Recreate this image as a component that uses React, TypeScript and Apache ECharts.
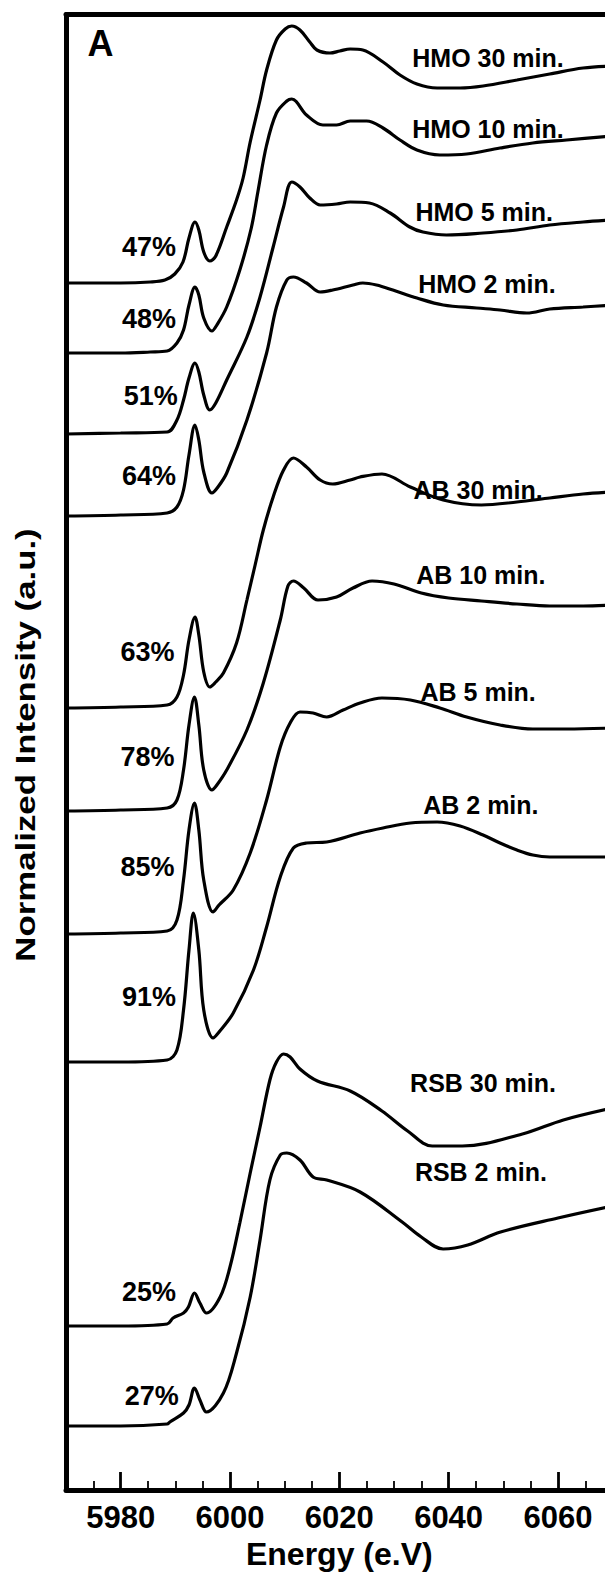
import React, { useEffect, useRef } from "react";
import * as echarts from "echarts";

// Cr K-edge XANES spectra, stacked (energy eV, normalized intensity + offset)
const hmo30: [number, number][] = [
  [5970, 12.07], [5980, 12.07], [5985.4, 12.08], [5988.1, 12.1], [5989.9, 12.16], [5991.4, 12.28],
  [5992.5, 12.52], [5993.6, 12.68], [5994.3, 12.6], [5995.2, 12.38], [5996.3, 12.29], [5997.4, 12.34],
  [5999.4, 12.63], [6001.2, 12.9], [6002.4, 13.12], [6003.7, 13.48], [6005.5, 13.9], [6006.7, 14.2],
  [6008.5, 14.5], [6010.1, 14.61], [6011.3, 14.64], [6012.8, 14.6], [6014.6, 14.48], [6015.9, 14.4],
  [6018.3, 14.37], [6020.1, 14.39], [6022, 14.41], [6024.3, 14.4], [6028, 14.28], [6031.1, 14.15],
  [6034.2, 14.06], [6037.9, 14.02], [6042.1, 14.02], [6046.3, 14.04], [6052.5, 14.1], [6058.5, 14.16],
  [6064.6, 14.22], [6070, 14.24],
];
const hmo10: [number, number][] = [
  [5970, 11.37], [5980, 11.37], [5985.4, 11.38], [5988.5, 11.39], [5990.3, 11.47], [5991.5, 11.6],
  [5992.5, 11.85], [5993.6, 12.03], [5994.3, 11.95], [5995.2, 11.72], [5996.7, 11.59], [5997.6, 11.65],
  [5999.4, 11.83], [6001.8, 12.2], [6003.9, 12.62], [6005.1, 12.98], [6006.7, 13.45], [6008.5, 13.77],
  [6010.4, 13.89], [6011.3, 13.91], [6014, 13.75], [6017, 13.65], [6019.5, 13.65], [6022, 13.69],
  [6025, 13.69], [6028, 13.62], [6031.1, 13.5], [6034.2, 13.4], [6038.4, 13.35], [6043.3, 13.36],
  [6049.4, 13.42], [6055.4, 13.47], [6061.6, 13.5], [6070, 13.54],
];
const hmo5: [number, number][] = [
  [5970, 10.56], [5980, 10.57], [5988.5, 10.58], [5990.3, 10.7], [5991.5, 10.9], [5992.5, 11.12],
  [5993.6, 11.27], [5994.3, 11.18], [5995.2, 10.95], [5996.3, 10.8], [5997.4, 10.87], [5999.4, 11.1],
  [6003.1, 11.53], [6005.5, 11.93], [6007.9, 12.43], [6009.8, 12.83], [6011.3, 13.08], [6012.8, 13.03],
  [6014.6, 12.92], [6016.5, 12.85], [6019.5, 12.86], [6022, 12.88], [6025.5, 12.87], [6029.3, 12.77],
  [6032.9, 12.63], [6035.3, 12.58], [6039.6, 12.55], [6046.3, 12.57], [6052.5, 12.6], [6058.5, 12.65],
  [6064.6, 12.68], [6070, 12.7],
];
const hmo2: [number, number][] = [
  [5970, 9.74], [5980, 9.75], [5988.5, 9.77], [5990.3, 9.83], [5991.5, 10.0], [5992.5, 10.35],
  [5993.6, 10.65], [5994.3, 10.5], [5995.2, 10.18], [5996.7, 9.97], [5997.8, 10.03], [5999.4, 10.17],
  [6003.1, 10.7], [6006.7, 11.37], [6008.5, 11.83], [6010.4, 12.1], [6011.6, 12.13], [6014, 12.07],
  [6016.5, 11.98], [6018.8, 12.0], [6022.5, 12.05], [6024.3, 12.07], [6026.8, 12.05], [6029.8, 12.0],
  [6034.2, 11.92], [6039, 11.85], [6045.1, 11.82], [6049.4, 11.8], [6054.3, 11.77], [6058.5, 11.81],
  [6064.6, 11.83], [6070, 11.85],
];
const ab30: [number, number][] = [
  [5970, 7.82], [5980, 7.83], [5988.5, 7.85], [5990.3, 7.93], [5991.5, 8.15], [5992.5, 8.5],
  [5993.6, 8.73], [5994.3, 8.55], [5995.2, 8.18], [5996.3, 8.03], [5997.4, 8.08], [5998.8, 8.17],
  [6001.2, 8.47], [6003.1, 8.9], [6004.6, 9.25], [6006.1, 9.6], [6007.9, 9.93], [6009.8, 10.2],
  [6011.6, 10.32], [6014, 10.23], [6016.5, 10.1], [6018.8, 10.06], [6022, 10.1], [6023.8, 10.13],
  [6027.8, 10.16], [6033, 10.03], [6039, 9.9], [6046, 9.85], [6052.5, 9.88], [6058.5, 9.92],
  [6064.6, 9.96], [6070, 9.98],
];
const ab10: [number, number][] = [
  [5970, 6.79], [5980, 6.8], [5988.5, 6.82], [5990.3, 6.9], [5991.5, 7.2], [5992.5, 7.65],
  [5993.5, 7.93], [5994.3, 7.65], [5995.2, 7.2], [5996.7, 7.0], [5997.6, 7.05], [5999.4, 7.2],
  [6003.1, 7.6], [6006.1, 8.07], [6009.2, 8.7], [6010.6, 9.04], [6011.6, 9.09], [6013.5, 9.02],
  [6016.1, 8.9], [6019.5, 8.93], [6022.5, 9.02], [6026, 9.09], [6030, 9.06], [6035, 8.97],
  [6040, 8.92], [6046, 8.89], [6052.5, 8.86], [6058.5, 8.84], [6064.6, 8.84], [6070, 8.85],
];
const ab5: [number, number][] = [
  [5970, 5.56], [5980, 5.57], [5988.5, 5.59], [5990.3, 5.7], [5991.5, 6.1], [5992.5, 6.6],
  [5993.5, 6.87], [5994.3, 6.6], [5995.2, 6.1], [5996.9, 5.78], [5998, 5.85], [6000.6, 6.0],
  [6003.7, 6.37], [6006.7, 6.9], [6009.2, 7.43], [6011, 7.67], [6012.8, 7.78], [6015.2, 7.77],
  [6017.7, 7.73], [6020.7, 7.8], [6023.8, 7.87], [6027.8, 7.92], [6033, 7.9], [6038.4, 7.82],
  [6043.3, 7.73], [6049.4, 7.65], [6055.4, 7.61], [6061.6, 7.61], [6070, 7.62],
];
const ab2: [number, number][] = [
  [5970, 4.28], [5980, 4.28], [5988.5, 4.3], [5990.3, 4.4], [5991.5, 4.8], [5992.5, 5.4],
  [5993.3, 5.77], [5994.3, 5.4], [5995.2, 4.8], [5996.9, 4.52], [5998, 4.58], [6000.6, 4.77],
  [6004.3, 5.2], [6006.7, 5.63], [6009.2, 6.13], [6011.6, 6.42], [6014, 6.47], [6017.7, 6.48],
  [6023.8, 6.57], [6028, 6.62], [6033, 6.67], [6037.9, 6.68], [6042.1, 6.64], [6046.3, 6.55],
  [6049.4, 6.47], [6052.5, 6.4], [6055.4, 6.35], [6058.5, 6.33], [6064.6, 6.33], [6070, 6.33],
];
const rsb30: [number, number][] = [
  [5970, 1.64], [5980, 1.64], [5988.5, 1.66], [5989.6, 1.72], [5991.5, 1.77], [5992.4, 1.83],
  [5993.5, 1.97], [5994.5, 1.87], [5995.7, 1.77], [5998.2, 1.93], [6000, 2.23], [6001.8, 2.67],
  [6003.7, 3.17], [6005.5, 3.63], [6007.3, 4.1], [6008.5, 4.28], [6009.8, 4.36], [6011, 4.33],
  [6012.8, 4.21], [6016, 4.09], [6022, 3.99], [6027.8, 3.79], [6032.5, 3.59], [6037, 3.44],
  [6042.5, 3.44], [6053.5, 3.56], [6061, 3.7], [6070, 3.82],
];
const rsb2: [number, number][] = [
  [5970, 0.64], [5980, 0.64], [5988.5, 0.66], [5989, 0.68], [5991.5, 0.77], [5992.5, 0.85],
  [5993.5, 1.02], [5994.5, 0.9], [5995.7, 0.78], [5998.8, 0.97], [6001.2, 1.37], [6003.7, 1.93],
  [6005.5, 2.5], [6007.3, 3.1], [6009.2, 3.35], [6010.4, 3.37], [6012.8, 3.3], [6015.2, 3.13],
  [6017.7, 3.1], [6023.8, 2.98], [6031.5, 2.68], [6035, 2.53], [6039, 2.41], [6043.5, 2.45],
  [6049.5, 2.58], [6060, 2.72], [6070, 2.84],
];

const seriesNames = [
  "HMO 30 min.", "HMO 10 min.", "HMO 5 min.", "HMO 2 min.",
  "AB 30 min.", "AB 10 min.", "AB 5 min.", "AB 2 min.",
  "RSB 30 min.", "RSB 2 min.",
];
const spectra = [hmo30, hmo10, hmo5, hmo2, ab30, ab10, ab5, ab2, rsb30, rsb2];

// curve labels: [text, energy, intensity]
const curveLabels: [string, number, number][] = [
  ["HMO 30 min.", 6047.2, 14.32], ["HMO 10 min.", 6047.2, 13.61],
  ["HMO 5 min.", 6046.5, 12.78], ["HMO 2 min.", 6047.0, 12.06],
  ["AB 30 min.", 6045.4, 10.0], ["AB 10 min.", 6045.9, 9.15],
  ["AB 5 min.", 6045.4, 7.98], ["AB 2 min.", 6045.9, 6.85],
  ["RSB 30 min.", 6046.3, 4.07], ["RSB 2 min.", 6045.9, 3.18],
];
// pre-edge Cr(VI) fractions: [text, energy, intensity]
const percentLabels: [string, number, number][] = [
  ["47%", 5985.2, 12.43], ["48%", 5985.2, 11.71], ["51%", 5985.5, 10.94], ["64%", 5985.2, 10.14],
  ["63%", 5984.9, 8.38], ["78%", 5984.9, 7.33], ["85%", 5984.9, 6.23], ["91%", 5985.2, 4.93],
  ["25%", 5985.2, 1.98], ["27%", 5985.7, 0.94],
];
const panelLabel: [string, number, number] = ["A", 5976.3, 14.47];

const majorTicks = [5980, 6000, 6020, 6040, 6060];
const minorTicks = [
  5975, 5985, 5990, 5995, 6005, 6010, 6015, 6025, 6030, 6035, 6045, 6050, 6055, 6065,
];

const FONT = "'Liberation Sans', Arial, Helvetica, sans-serif";

export default function App() {
  const ref = useRef<HTMLDivElement>(null);
  useEffect(() => {
    document.body.style.margin = "0";
    if (!ref.current) return;
    const chart = echarts.init(ref.current, undefined, { renderer: "svg" });
    const lineSeries = spectra.map((d, i) => ({
      name: seriesNames[i],
      type: "line",
      data: d,
      smooth: 0.35,
      symbol: "none",
      lineStyle: { color: "#000", width: 3.2 },
      z: 2,
    }));
    const textSeries = (items: [string, number, number][], size: number) => ({
      type: "scatter",
      symbolSize: 0,
      silent: true,
      z: 3,
      itemStyle: { opacity: 1, color: "#000" },
      data: items.map(([t, x, y]) => ({ name: t, value: [x, y] })),
      label: {
        show: true,
        position: "inside",
        formatter: (p: any) => p.name,
        color: "#000",
        opacity: 1,
        fontFamily: FONT,
        fontWeight: "bold",
        fontSize: size,
      },
    });
    chart.setOption({
      animation: false,
      backgroundColor: "#fff",
      grid: {
        left: 66,
        top: 14.5,
        width: 546.6,
        height: 1475.5,
        containLabel: false,
        outerBoundsMode: "none",
      },
      xAxis: [
        {
          type: "value",
          min: 5970,
          max: 6070,
          position: "bottom",
          name: "Energy (e.V)",
          nameLocation: "middle",
          nameGap: 45,
          nameTextStyle: { fontFamily: FONT, fontWeight: "bold", fontSize: 32, color: "#000" },
          axisLine: { show: true, onZero: false, lineStyle: { color: "#000", width: 5 } },
          axisTick: {
            show: true,
            inside: true,
            length: 18,
            customValues: majorTicks,
            lineStyle: { color: "#000", width: 2.8 },
          },
          minorTick: { show: false },
          splitLine: { show: false },
          axisLabel: {
            show: true,
            margin: 12,
            customValues: majorTicks,
            formatter: (v: number) => String(v),
            fontFamily: FONT,
            fontWeight: "bold",
            fontSize: 31,
            color: "#000",
          },
        },
        {
          type: "value",
          min: 5970,
          max: 6070,
          position: "top",
          axisLine: { show: true, onZero: false, lineStyle: { color: "#000", width: 5 } },
          axisTick: { show: false },
          axisLabel: { show: false },
          splitLine: { show: false },
        },
        {
          type: "value",
          min: 5970,
          max: 6070,
          position: "bottom",
          axisLine: { show: false },
          axisTick: {
            show: true,
            inside: true,
            length: 9,
            customValues: minorTicks,
            lineStyle: { color: "#000", width: 1.8 },
          },
          axisLabel: { show: false },
          splitLine: { show: false },
        },
      ],
      yAxis: {
        type: "value",
        min: 0,
        max: 14.755,
        axisLine: { show: true, onZero: false, lineStyle: { color: "#000", width: 5 } },
        axisTick: { show: false },
        axisLabel: { show: false },
        splitLine: { show: false },
      },
      graphic: [
        {
          type: "text",
          x: 25.5,
          y: 745,
          rotation: Math.PI / 2,
          scaleX: 1.29,
          scaleY: 1,
          style: {
            text: "Normalized Intensity (a.u.)",
            fontFamily: FONT,
            fontWeight: "bold",
            fontSize: 27,
            fill: "#000",
            align: "center",
            verticalAlign: "middle",
          },
        },
      ],
      series: [
        ...lineSeries,
        textSeries(curveLabels, 25),
        textSeries(percentLabels, 27),
        textSeries([panelLabel], 36),
      ],
    });
    return () => chart.dispose();
  }, []);
  return <div ref={ref} style={{ width: 605, height: 1577 }} />;
}
